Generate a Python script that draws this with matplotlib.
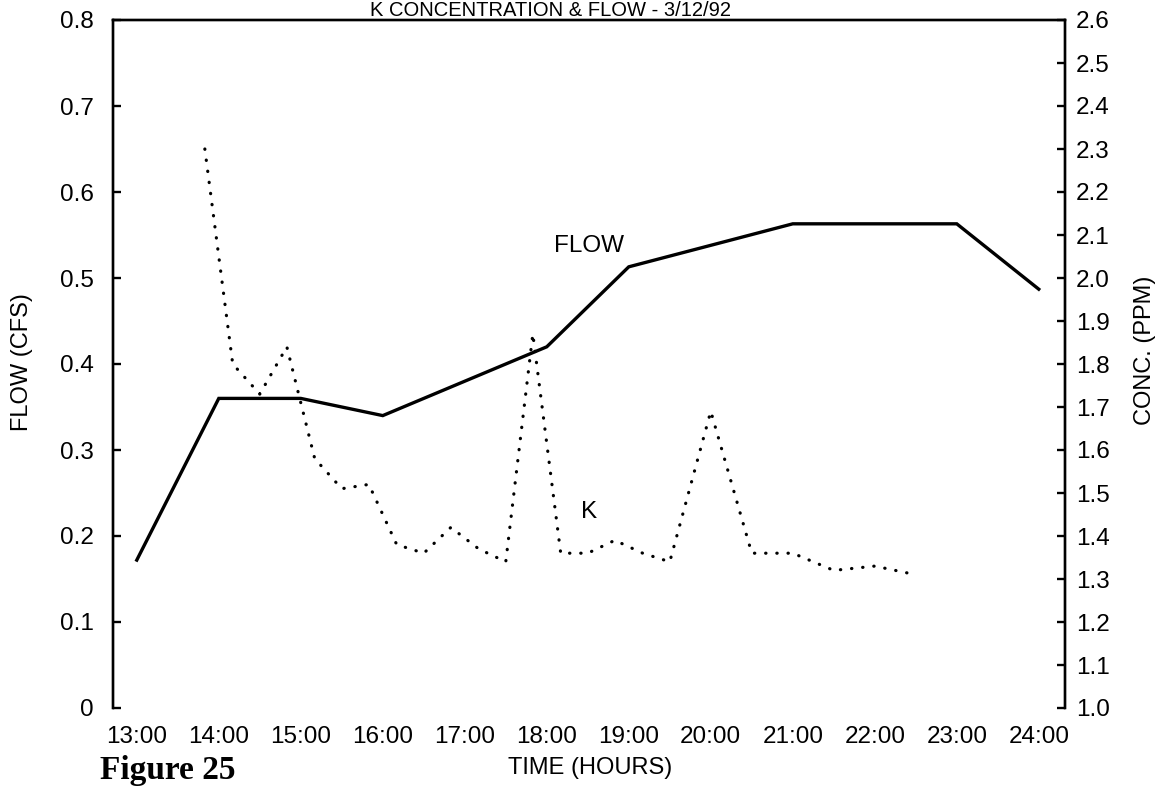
import matplotlib
matplotlib.use("Agg")
import matplotlib.pyplot as plt

# ---- data ----
flow_hours = [13, 14, 15, 16, 17, 18, 19, 21, 23, 24]
flow_cfs = [0.172, 0.36, 0.36, 0.34, 0.38, 0.42, 0.513, 0.563, 0.563, 0.487]

k_hours = [13.83, 14.17, 14.5, 14.83, 15.17, 15.5, 15.83, 16.17, 16.5, 16.83,
           17.17, 17.5, 17.83, 18.17, 18.5, 18.83, 19.17, 19.5, 20.0, 20.5,
           21.0, 21.5, 22.0, 22.5]
k_ppm = [2.30, 1.80, 1.73, 1.84, 1.58, 1.51, 1.52, 1.38, 1.36, 1.42,
         1.37, 1.34, 1.87, 1.36, 1.36, 1.39, 1.36, 1.34, 1.69, 1.36,
         1.36, 1.32, 1.33, 1.31]

x_ticks = list(range(13, 25))
x_tick_labels = [f"{h}:00" for h in x_ticks]
left_ticks = [0, 0.1, 0.2, 0.3, 0.4, 0.5, 0.6, 0.7, 0.8]
left_tick_labels = ["0", "0.1", "0.2", "0.3", "0.4", "0.5", "0.6", "0.7", "0.8"]
right_ticks = [1.0 + 0.1 * i for i in range(17)]
right_tick_labels = [f"{v:.1f}" for v in right_ticks]

plt.rcParams['font.family'] = ['Liberation Sans', 'DejaVu Sans']

W, H = 1167, 788
fig = plt.figure(figsize=(W / 100, H / 100), dpi=100)
L, R, T, B = 113, 1065, 20, 708
ax = fig.add_axes([L / W, 1 - B / H, (R - L) / W, (B - T) / H])
ax2 = ax.twinx()

ax.plot(flow_hours, flow_cfs, color='black', lw=2.4, solid_joinstyle='miter')
ax2.plot(k_hours, k_ppm, color='black', lw=2.3, linestyle=(0, (0.1, 3.4)),
         dash_capstyle='round')

ax.set_xlim(12.71, 24.32)
ax.set_ylim(0, 0.8)
ax2.set_ylim(1.0, 2.6)

ax.set_xticks(x_ticks)
ax.set_xticklabels(x_tick_labels)
ax.set_yticks(left_ticks)
ax.set_yticklabels(left_tick_labels)
ax2.set_yticks(right_ticks)
ax2.set_yticklabels(right_tick_labels)

for a in (ax, ax2):
    for s in a.spines.values():
        s.set_linewidth(1.7)
    a.spines['bottom'].set_visible(False)

TS = 17.5
ax.tick_params(axis='x', length=0, pad=13, labelsize=TS)
ax.tick_params(axis='y', direction='in', length=6, width=1.7, pad=14, labelsize=TS)
ax2.tick_params(axis='y', direction='in', length=6, width=1.7, pad=8, labelsize=TS)

LS = 17
fig.text(22 / W, 1 - 362 / H, "FLOW (CFS)", rotation=90, ha='center', va='center', fontsize=LS)
fig.text(1145 / W, 1 - 350 / H, "CONC. (PPM)", rotation=90, ha='center', va='center', fontsize=LS)
fig.text(590 / W, 1 - 768 / H, "TIME (HOURS)", ha='center', va='center', fontsize=LS)

ax.text(18.52, 0.537, "FLOW", ha='center', va='center', fontsize=TS)
ax.text(18.52, 0.228, "K", ha='center', va='center', fontsize=TS)

fig.text(551 / W, 1 - 16.5 / H, "K CONCENTRATION & FLOW - 3/12/92", ha='center',
         va='baseline', fontsize=14.5)
fig.text(100 / W, 1 - 779 / H, "Figure 25", ha='left', va='baseline', fontsize=24,
         fontweight='bold', family=['Liberation Serif', 'DejaVu Serif'])

fig.savefig("out.png", dpi=100)
